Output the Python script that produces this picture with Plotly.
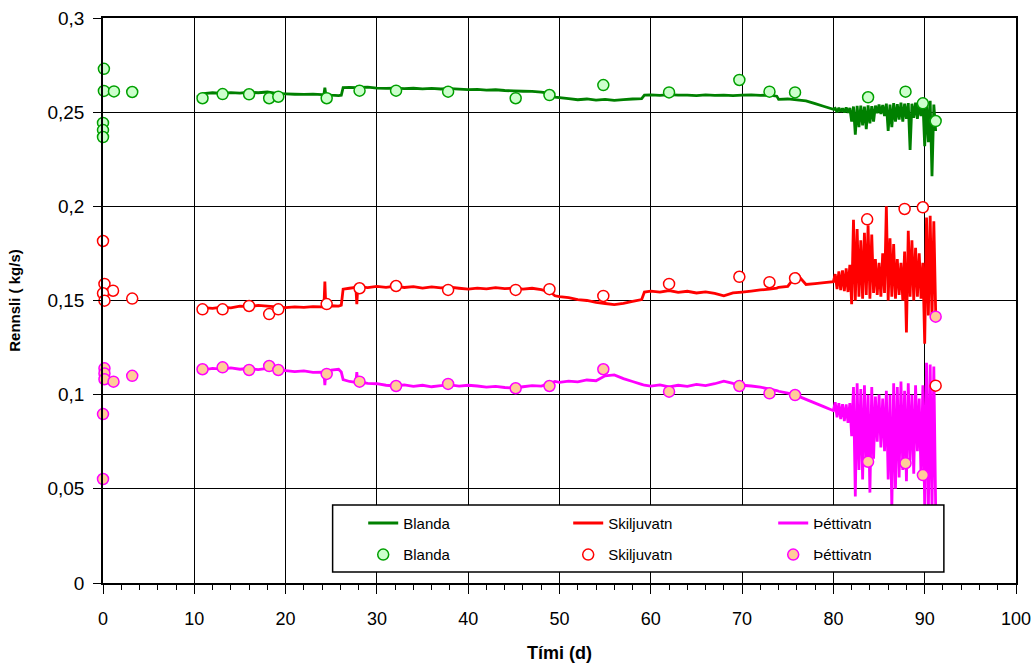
import plotly.graph_objects as go

# ---------------- time stamps (days) ----------------
T_STABLE = [10.3, 11, 12, 13, 14, 15, 16, 17, 18, 19, 20, 21, 22, 23, 24, 24.2, 24.3, 24.4, 25, 25.8,
            26.1, 26.3, 27, 27.7, 27.8, 27.9, 28, 29, 30, 31, 32, 33, 34, 35, 36, 37, 38, 39, 40, 41,
            42, 43, 44, 45, 46, 47, 48, 49, 49.5, 50, 51, 52, 53, 54, 55, 56, 57, 58, 59, 59.3,
            60, 61, 62, 63, 64, 65, 66, 67, 68, 69, 70, 71, 72, 73, 73.8, 74, 75, 76, 77, 78, 79, 80]
T_NOISY = [80.2, 80.4, 80.6, 80.8, 81.0, 81.2, 81.4, 81.6, 81.8, 82.0, 82.2, 82.4, 82.6, 82.8, 83.0,
           83.2, 83.4, 83.6, 83.8, 84.0, 84.2, 84.4, 84.6, 84.8, 85.0, 85.2, 85.4, 85.6, 85.8, 86.0,
           86.2, 86.4, 86.6, 86.8, 87.0, 87.2, 87.4, 87.6, 87.8, 88.0, 88.2, 88.4, 88.6, 88.8, 89.0,
           89.2, 89.4, 89.6, 89.8, 90.0, 90.2, 90.4, 90.6, 90.8, 91.0, 91.2]

# ---------------- continuous measurements (kg/s) ----------------
BLANDA_STABLE = [0.2580, 0.2598, 0.2603, 0.2600, 0.2604, 0.2601, 0.2606, 0.2603, 0.2607, 0.2600,
                 0.2597, 0.2595, 0.2594, 0.2596, 0.2593, 0.2595, 0.2630, 0.2594, 0.2590, 0.2588,
                 0.2590, 0.2630, 0.2632, 0.2630, 0.2633, 0.2630, 0.2631, 0.2633, 0.2628, 0.2626,
                 0.2628, 0.2625, 0.2627, 0.2624, 0.2626, 0.2623, 0.2625, 0.2622, 0.2620, 0.2621,
                 0.2617, 0.2619, 0.2615, 0.2613, 0.2611, 0.2610, 0.2606, 0.2600, 0.2580, 0.2577,
                 0.2572, 0.2566, 0.2570, 0.2564, 0.2568, 0.2563, 0.2567, 0.2570, 0.2572, 0.2590,
                 0.2592, 0.2589, 0.2593, 0.2590, 0.2591, 0.2588, 0.2592, 0.2589, 0.2591, 0.2588,
                 0.2590, 0.2592, 0.2589, 0.2591, 0.2585, 0.2568, 0.2570, 0.2565, 0.2560, 0.2545,
                 0.2530, 0.2515]
BLANDA_NOISY = [0.2520, 0.2500, 0.2523, 0.2502, 0.2520, 0.2498, 0.2525, 0.2497, 0.2522, 0.2450,
                0.2530, 0.2380, 0.2533, 0.2420, 0.2535, 0.2430, 0.2530, 0.2410, 0.2536, 0.2440,
                0.2532, 0.2450, 0.2535, 0.2495, 0.2540, 0.2490, 0.2538, 0.2480, 0.2545, 0.2400,
                0.2540, 0.2420, 0.2548, 0.2450, 0.2542, 0.2460, 0.2550, 0.2450, 0.2545, 0.2465,
                0.2548, 0.2300, 0.2545, 0.2470, 0.2550, 0.2465, 0.2547, 0.2480, 0.2560, 0.2320,
                0.2565, 0.2340, 0.2560, 0.2160, 0.2540, 0.2400]

SKIL_STABLE = [0.1455, 0.1462, 0.1458, 0.1465, 0.1461, 0.1470, 0.1467, 0.1474, 0.1470, 0.1466,
               0.1462, 0.1466, 0.1463, 0.1468, 0.1466, 0.1468, 0.1600, 0.1470, 0.1472, 0.1470,
               0.1475, 0.1560, 0.1565, 0.1570, 0.1480, 0.1568, 0.1572, 0.1568, 0.1575, 0.1570,
               0.1576, 0.1569, 0.1574, 0.1566, 0.1572, 0.1567, 0.1571, 0.1565, 0.1560, 0.1566,
               0.1562, 0.1568, 0.1563, 0.1566, 0.1560, 0.1565, 0.1558, 0.1545, 0.1525, 0.1520,
               0.1515, 0.1505, 0.1500, 0.1490, 0.1484, 0.1478, 0.1485, 0.1495, 0.1505, 0.1545,
               0.1550, 0.1545, 0.1553, 0.1543, 0.1549, 0.1540, 0.1546, 0.1538, 0.1525, 0.1540,
               0.1545, 0.1550, 0.1556, 0.1560, 0.1566, 0.1570, 0.1575, 0.1640, 0.1585, 0.1590,
               0.1595, 0.1600]
SKIL_NOISY = [0.1640, 0.1560, 0.1655, 0.1555, 0.1660, 0.1550, 0.1670, 0.1545, 0.1690, 0.1480,
              0.1928, 0.1500, 0.1880, 0.1520, 0.1820, 0.1510, 0.1860, 0.1530, 0.1900, 0.1510,
              0.1850, 0.1540, 0.1720, 0.1530, 0.1700, 0.1520, 0.1750, 0.1540, 0.2000, 0.1500,
              0.1830, 0.1520, 0.1800, 0.1510, 0.1720, 0.1530, 0.1700, 0.1500, 0.1760, 0.1330,
              0.1870, 0.1520, 0.1820, 0.1500, 0.1780, 0.1520, 0.1750, 0.1510, 0.1700, 0.1270,
              0.1940, 0.1420, 0.1950, 0.1400, 0.1920, 0.1440]

THETTI_STABLE = [0.1138, 0.1132, 0.1140, 0.1136, 0.1142, 0.1135, 0.1139, 0.1133, 0.1140, 0.1132,
                 0.1128, 0.1122, 0.1126, 0.1118, 0.1120, 0.1115, 0.1050, 0.1112, 0.1130, 0.1135,
                 0.1120, 0.1080, 0.1070, 0.1065, 0.1120, 0.1062, 0.1068, 0.1060, 0.1058, 0.1050,
                 0.1046, 0.1052, 0.1044, 0.1050, 0.1042, 0.1048, 0.1052, 0.1045, 0.1050, 0.1046,
                 0.1040, 0.1044, 0.1038, 0.1035, 0.1042, 0.1048, 0.1045, 0.1060, 0.1070, 0.1065,
                 0.1072, 0.1068, 0.1078, 0.1074, 0.1100, 0.1105, 0.1085, 0.1070, 0.1055, 0.1050,
                 0.1045, 0.1052, 0.1042, 0.1050, 0.1044, 0.1055, 0.1048, 0.1058, 0.1072, 0.1060,
                 0.1050, 0.1046, 0.1040, 0.1030, 0.1022, 0.1018, 0.1008, 0.0995, 0.0975, 0.0955,
                 0.0935, 0.0915]
THETTI_NOISY = [0.0960, 0.0880, 0.0955, 0.0870, 0.0950, 0.0860, 0.0948, 0.0850, 0.0955, 0.0780,
                0.1040, 0.0460, 0.1060, 0.0600, 0.1030, 0.0550, 0.1050, 0.0620, 0.1000, 0.0480,
                0.1040, 0.0660, 0.0990, 0.0750, 0.1000, 0.0720, 0.0980, 0.0700, 0.1020, 0.0550,
                0.1000, 0.0390, 0.1060, 0.0500, 0.1040, 0.0560, 0.1070, 0.0600, 0.1020, 0.0540,
                0.1060, 0.0650, 0.1000, 0.0580, 0.1050, 0.0700, 0.0980, 0.0560, 0.1050, 0.0400,
                0.1170, 0.0370, 0.1160, 0.0380, 0.1150, 0.0400]

# ---------------- sampled points (kg/s) ----------------
BLANDA_PT_T = [0.1, 0.1, 1.2, 3.2, 0.0, 0.0, 0.0, 10.9, 13.1, 16.0, 18.2, 19.2, 24.5, 28.1, 32.1,
               37.8, 45.2, 48.9, 54.8, 62.0, 69.7, 73.0, 75.8, 83.8, 87.9, 89.8, 91.2]
BLANDA_PT_V = [0.2730, 0.2613, 0.2610, 0.2607, 0.2443, 0.2405, 0.2368, 0.2574, 0.2596, 0.2595,
               0.2574, 0.2582, 0.2574, 0.2614, 0.2614, 0.2609, 0.2574, 0.2591, 0.2644, 0.2605,
               0.2671, 0.2609, 0.2605, 0.2579, 0.2609, 0.2547, 0.2453]

SKIL_PT_T = [0.0, 0.16, 1.1, 0.0, 0.16, 3.2, 10.9, 13.1, 16.0, 18.2, 19.2, 24.5, 28.1, 32.1, 37.8,
             45.2, 48.9, 54.8, 62.0, 69.7, 73.0, 75.8, 83.7, 87.8, 89.8, 91.2]
SKIL_PT_V = [0.1816, 0.1588, 0.1552, 0.1538, 0.1499, 0.1510, 0.1453, 0.1453, 0.1471, 0.1428,
             0.1453, 0.1481, 0.1565, 0.1577, 0.1556, 0.1556, 0.1560, 0.1524, 0.1588, 0.1626,
             0.1597, 0.1618, 0.1931, 0.1986, 0.1995, 0.1048]

THETTI_PT_T = [0.16, 0.16, 0.16, 1.15, 3.2, 0.0, 0.0, 10.9, 13.1, 16.0, 18.2, 19.2, 24.5, 28.1,
               32.1, 37.8, 45.2, 48.9, 54.8, 62.0, 69.7, 73.0, 75.8, 83.8, 87.9, 89.8, 91.2]
THETTI_PT_V = [0.1140, 0.1113, 0.1082, 0.1069, 0.1100, 0.0897, 0.0552, 0.1135, 0.1145, 0.1131,
               0.1152, 0.1131, 0.1110, 0.1069, 0.1046, 0.1057, 0.1034, 0.1046, 0.1135, 0.1016,
               0.1046, 0.1007, 0.0998, 0.0644, 0.0636, 0.0573, 0.1414]

X_TICKS = [0, 10, 20, 30, 40, 50, 60, 70, 80, 90, 100]
Y_TICKS = [0, 0.05, 0.1, 0.15, 0.2, 0.25, 0.3]
Y_TICK_TEXT = ["0", "0,05", "0,1", "0,15", "0,2", "0,25", "0,3"]

SERIES_NAMES = ["Blanda", "Skiljuvatn", "Þéttivatn"]

FONT = "Liberation Sans, Arial, sans-serif"

t_line = T_STABLE + T_NOISY
fig = go.Figure()

line_specs = [
    (SERIES_NAMES[0], BLANDA_STABLE + BLANDA_NOISY, "#008000"),
    (SERIES_NAMES[1], SKIL_STABLE + SKIL_NOISY, "#ff0000"),
    (SERIES_NAMES[2], THETTI_STABLE + THETTI_NOISY, "#ff00ff"),
]
for name, vals, col in line_specs:
    fig.add_trace(go.Scatter(x=t_line, y=vals, mode="lines", name=name,
                             line=dict(color=col, width=2.8, simplify=False), legend="legend"))

pt_specs = [
    (SERIES_NAMES[0], BLANDA_PT_T, BLANDA_PT_V, "#ccffcc", "#00a000"),
    (SERIES_NAMES[1], SKIL_PT_T, SKIL_PT_V, "#ffffff", "#ff0000"),
    (SERIES_NAMES[2], THETTI_PT_T, THETTI_PT_V, "#ffcc99", "#ff00ff"),
]
for name, xs, ys, fill, edge in pt_specs:
    fig.add_trace(go.Scatter(x=xs, y=ys, mode="markers", name=name, cliponaxis=False,
                             marker=dict(symbol="circle", size=11, color=fill,
                                         line=dict(color=edge, width=1.5)),
                             legend="legend2"))

legend_common = dict(orientation="h", xanchor="left", yanchor="top",
                     entrywidth=160, entrywidthmode="pixels",
                     bgcolor="rgba(0,0,0,0)", borderwidth=0,
                     font=dict(family=FONT, size=15, color="black"))

fig.update_layout(
    width=1034, height=663,
    margin=dict(l=103, r=18, t=18, b=80, autoexpand=False),
    paper_bgcolor="white", plot_bgcolor="white",
    font=dict(family=FONT, color="black"),
    showlegend=True,
    legend=dict(x=0.285, y=0.135, **legend_common),
    legend2=dict(x=0.285, y=0.079, **legend_common),
    shapes=[dict(type="rect", xref="paper", yref="paper", x0=0.2515, x1=0.921, y0=0.0195, y1=0.138,
                 line=dict(color="black", width=1.5), fillcolor="white", layer="above")],
    xaxis=dict(range=[0, 100], tickvals=X_TICKS, showgrid=True, gridcolor="black", gridwidth=1,
               showline=True, linecolor="black", linewidth=1.5, mirror=True, zeroline=False,
               ticks="outside", ticklen=9, tickcolor="black", tickwidth=1, automargin=False,
               ticklabelstandoff=10, ticklabeloverflow="allow",
               minor=dict(dtick=2, tick0=0, ticks="outside", ticklen=5, tickcolor="black", showgrid=False),
               tickfont=dict(family=FONT, size=18, color="black"),
               title=dict(text="Tími (d)", standoff=22,
                          font=dict(family=FONT, size=18, color="black", weight="bold"))),
    yaxis=dict(range=[0, 0.3], tickvals=Y_TICKS, ticktext=Y_TICK_TEXT, showgrid=True,
               gridcolor="black", gridwidth=1, showline=True, linecolor="black", linewidth=1.5,
               mirror=True, zeroline=False, ticks="outside", ticklen=8, tickcolor="black",
               automargin=False, ticklabelstandoff=5, ticklabeloverflow="allow",
               tickfont=dict(family=FONT, size=19, color="black"),
               title=dict(text="Rennsli ( kg/s)", standoff=23,
                          font=dict(family=FONT, size=15, color="black", weight="bold"))),
)

# remove the browser's default 8 px page margin so the figure sits at the top-left corner
fig.write_html("out.html", config={"displayModeBar": False},
               post_script="document.body.style.margin='0';document.body.style.overflow='hidden';")
